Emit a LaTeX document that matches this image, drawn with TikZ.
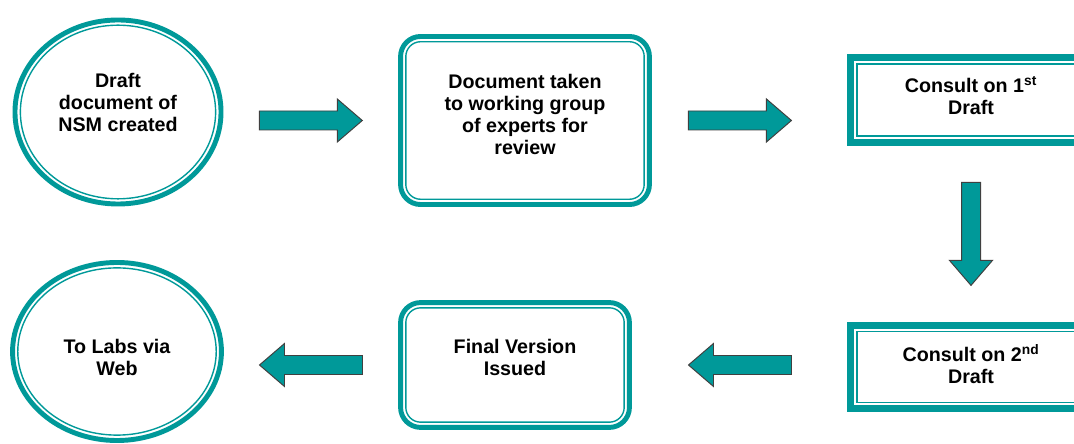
\documentclass[tikz,border=0pt]{standalone}
\usepackage{fontspec}
\setmainfont{Liberation Sans}
\usetikzlibrary{calc, shapes.geometric}
\definecolor{nsmteal}{RGB}{0,153,153}

\begin{document}
\begin{tikzpicture}[x = 0.025cm, y = -0.025cm,
    every node/.style = {font = \bfseries\fontsize{14}{15.6}\selectfont, align = center, outer sep = 0pt},
    ring/.style = {shape = ellipse, draw = nsmteal, line width = 3.5pt},
    roundbox/.style = {shape = rectangle, rounded corners = 0.5cm, draw = nsmteal, line width = 3.5pt},
    squarebox/.style = {shape = rectangle, draw = nsmteal, line width = 5pt},
    innerline/.style = {draw = nsmteal, line width = 1pt},
    fatarrow/.pic = {\draw[fill = nsmteal, draw = black!75, line width = 0.7pt]
        (-51.5,-9.5) -- (26.5,-9.5) -- (26.5,-21.5) -- (51.5,0) -- (26.5,21.5) -- (26.5,9.5) -- (-51.5,9.5) -- cycle;}]
    \clip (0,0) rectangle (1074,444);
    % top row
    \node[ring, minimum width = 5.15cm, minimum height = 4.6cm, text depth = 14.2pt] (Draft) at (118,112) {Draft\\document of\\NSM created};
    \node[roundbox, minimum width = 6.22cm, minimum height = 4.2cm, text depth = 8.5pt] (Review) at (525,120.5) {Document taken\\to working group\\of experts for\\review};
    \node[squarebox, minimum width = 6.02cm, minimum height = 2.12cm, text depth = 6.4pt] (First) at (971,100) {Consult on 1\textsuperscript{st}\\Draft};
    % bottom row
    \node[squarebox, minimum width = 6.02cm, minimum height = 2.08cm, text depth = 4.3pt] (Second) at (971,367) {Consult on 2\textsuperscript{nd}\\Draft};
    \node[roundbox, minimum width = 5.72cm, minimum height = 3.12cm, text depth = 10.6pt] (Final) at (515,365) {Final Version\\Issued};
    \node[ring, minimum width = 5.22cm, minimum height = 4.45cm, text height = 33.6pt] (Web) at (117,351.5) {To Labs via\\Web};
    % inner lines
    \draw[innerline] (Draft.center) ellipse [x radius = 2.44cm, y radius = 2.17cm];
    \draw[innerline] (Web.center) ellipse [x radius = 2.48cm, y radius = 2.09cm];
    \draw[innerline, rounded corners = 0.37cm] ($(Review.north west) + (5.25,5.25)$) rectangle ($(Review.south east) - (5.25,5.25)$);
    \draw[innerline, rounded corners = 0.37cm] ($(Final.north west) + (5.25,5.25)$) rectangle ($(Final.south east) - (5.25,5.25)$);
    \draw[innerline] ($(First.north west) + (6.25,6.25)$) rectangle ($(First.south east) - (6.25,6.25)$);
    \draw[innerline] ($(Second.north west) + (6.25,6.25)$) rectangle ($(Second.south east) - (6.25,6.25)$);
    % arrows
    \pic at ($(Review.west)!0.5!(Review.west -| Draft.east)$) {fatarrow};
    \pic at ($(Review.east)!0.45!(Review.east -| First.west)$) {fatarrow};
    \pic[rotate = -90] at ($(First.south)!0.5!(Second.north)$) {fatarrow};
    \pic[rotate = 180] at ($(Final.east)!0.5!(Final.east -| Second.west)$) {fatarrow};
    \pic[rotate = 180] at ($(Final.west)!0.5!(Final.west -| Web.east)$) {fatarrow};
\end{tikzpicture}
\end{document}
